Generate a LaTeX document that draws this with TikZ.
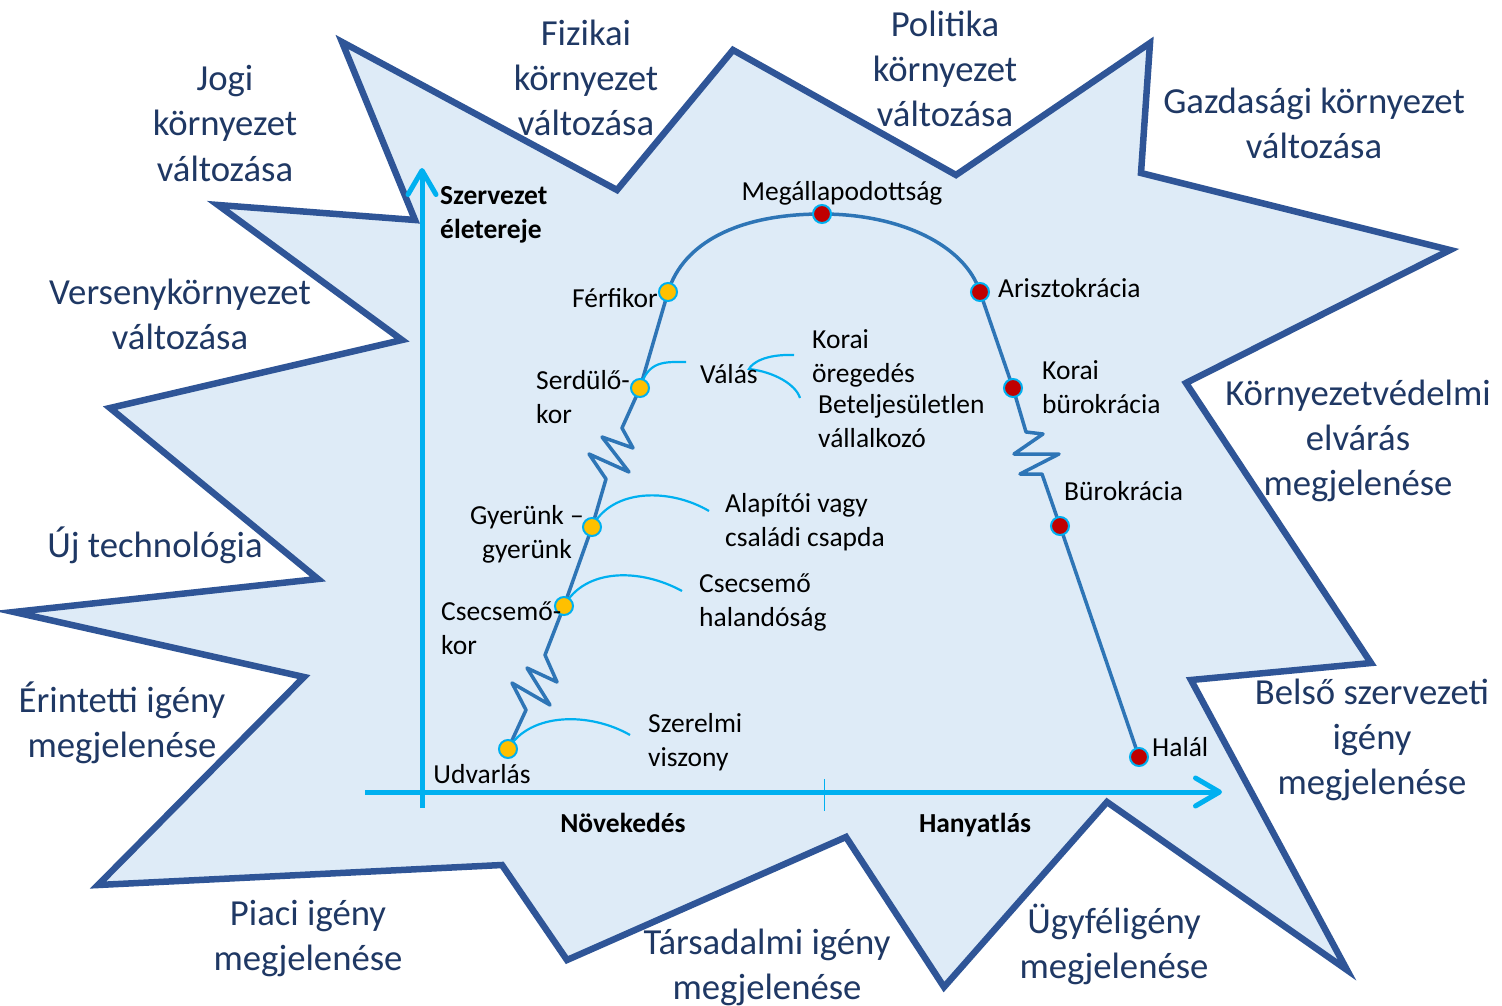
\documentclass[tikz,border=0pt]{standalone}
\usepackage{fontspec}
\setmainfont{Carlito}
\usetikzlibrary{arrows.meta}
\definecolor{starfill}{HTML}{DEEBF7}
\definecolor{stardraw}{HTML}{2F5597}
\definecolor{axiscol}{HTML}{00B0F0}
\definecolor{curvecol}{HTML}{2E75B6}
\definecolor{outertext}{HTML}{1F3864}
\definecolor{dotyellow}{HTML}{FFC000}
\definecolor{dotred}{HTML}{C00000}
\begin{document}
\begin{tikzpicture}[x=1pt,y=-1pt,
  outer/.style={font=\fontsize{36.7}{45}\selectfont, text=outertext, align=center, anchor=base, inner sep=0pt},
  inlab/.style={font=\fontsize{27.5}{33.5}\selectfont, text=black, align=left, anchor=base west, inner sep=0pt},
  boldlab/.style={inlab, font=\fontsize{27.5}{33.5}\selectfont\bfseries},
  ydot/.style={circle, fill=dotyellow, draw=axiscol, line width=2pt, minimum size=18pt, inner sep=0pt},
  rdot/.style={ydot, fill=dotred},
  lifeline/.style={draw=curvecol, line width=3.5pt, line join=round, line cap=round},
  note/.style={draw=axiscol, line width=2.2pt},
  axisline/.style={draw=axiscol, line width=5pt},
  barb/.style={-{Straight Barb[length=24pt,width=28pt,round]}},
]
\useasboundingbox (0,0) rectangle (1502,1006);
\fill[white] (0,0) rectangle (1502,1006);

% star
\draw[fill=starfill, draw=stardraw, line width=6.5pt]
  (342,42) -- (617,190) -- (733,50) -- (956,175) -- (1150,43) -- (1141,173)
  -- (1450,250) -- (1186,383) -- (1371,663) -- (1191,680) -- (1347,970)
  -- (1107,802) -- (944,987) -- (846,837) -- (567,960) -- (502,865)
  -- (98,885) -- (304,677) -- (14,612) -- (318,579) -- (110,408)
  -- (402,340) -- (218,205) -- (415,220) -- cycle;

% axes
\coordinate (vbot) at (422,808);
\coordinate (vtop) at (422,168);
\coordinate (hleft) at (365,792);
\coordinate (hright) at (1222,792);
\coordinate (tickA) at (824,779);
\coordinate (tickB) at (824,811);
\draw[axisline, barb] (vbot) -- (vtop);
\draw[axisline, barb] (hleft) -- (hright);
\draw[draw=axiscol, line width=1pt] (tickA) -- (tickB);

% life line points
\coordinate (p1) at (508,749);
\coordinate (p2) at (564,606);
\coordinate (p3) at (592,527);
\coordinate (p4) at (640,388);
\coordinate (p5) at (668,292);
\coordinate (p6) at (822,214);
\coordinate (p7) at (980,292);
\coordinate (p8) at (1013,388);
\coordinate (p9) at (1060,526);
\coordinate (p10) at (1139,757);

\draw[lifeline] (p1) -- (526,710) -- (512,683) -- (550,705) -- (527,668)
  -- (557,682) -- (545,655) -- (p2) -- (p3) -- (606,479) -- (589,454)
  -- (629,472) -- (602,437) -- (633,448) -- (622,428) -- (p4) -- (p5)
  .. controls (683,243) and (738,214) .. (p6)
  .. controls (900,214) and (965,245) .. (p7)
  -- (p8) -- (1026,432) -- (1043,434) -- (1014,454) -- (1059,454)
  -- (1020,474) -- (1042,474) -- (p9) -- (p10);

% annotation curves
\coordinate (n1) at (630,735);
\coordinate (n2) at (682,591);
\coordinate (n3) at (709,511);
\coordinate (n4) at (686,362);
\coordinate (va1) at (794,355);
\coordinate (vtip) at (749,369);
\coordinate (va2) at (800,398);
\draw[note] (p1) .. controls (530,712) and (590,712) .. (n1);
\draw[note] (p2) .. controls (585,568) and (640,568) .. (n2);
\draw[note] (p3) .. controls (612,488) and (670,488) .. (n3);
\draw[note] (p4) .. controls (648,360) and (665,362) .. (n4);
\draw[note] (va1) .. controls (765,354) and (752,363) .. (vtip)
  .. controls (775,372) and (796,385) .. (va2);

% dots
\node[ydot] (d1) at (p1) {};
\node[ydot] (d2) at (p2) {};
\node[ydot] (d3) at (p3) {};
\node[ydot] (d4) at (p4) {};
\node[ydot] (d5) at (p5) {};
\node[rdot] (d6) at (p6) {};
\node[rdot] (d7) at (p7) {};
\node[rdot] (d8) at (p8) {};
\node[rdot] (d9) at (p9) {};
\node[rdot] (d10) at (p10) {};

% axis labels (multi-line nodes: base = last line)
\node[boldlab] (ylab) at (440,238) {Szervezet\\életereje};
\node[boldlab, anchor=base] (grow) at (623,832) {Növekedés};
\node[boldlab, anchor=base] (decl) at (975,832) {Hanyatlás};

% stage labels
\node[inlab, anchor=base] (l6) at (842,200) {Megállapodottság};
\node[inlab, anchor=base east] (l5) at (658,307) {Férfikor};
\node[inlab] (l4) at (536,423) {Serdülő-\\kor};
\node[inlab, align=center, anchor=base] (l3) at (527,558) {Gyerünk –\\gyerünk};
\node[inlab] (l2) at (441,654) {Csecsemő-\\kor};
\node[inlab, anchor=base] (l1) at (482,783) {Udvarlás};
\node[inlab] (l7) at (998,297) {Arisztokrácia};
\node[inlab] (l8) at (1042,413) {Korai\\bürokrácia};
\node[inlab] (l9) at (1064,500) {Bürokrácia};
\node[inlab] (l10) at (1152,756) {Halál};

% trap labels
\node[inlab] (t1) at (648,766) {Szerelmi\\viszony};
\node[inlab] (t2) at (699,626) {Csecsemő\\halandóság};
\node[inlab] (t3) at (725,546) {Alapítói vagy\\családi csapda};
\node[inlab] (t4) at (700,383) {Válás};
\node[inlab] (t5) at (812,382) {Korai\\öregedés};
\node[inlab] (t6) at (818,447) {Beteljesületlen\\vállalkozó};

% outer labels
\node[outer] (o1) at (225,181) {Jogi\\környezet\\változása};
\node[outer] (o2) at (586,136) {Fizikai\\környezet\\változása};
\node[outer] (o3) at (945,127) {Politika\\környezet\\változása};
\node[outer] (o4) at (1314,159) {Gazdasági környezet\\változása};
\node[outer] (o5) at (180,349) {Versenykörnyezet\\változása};
\node[outer] (o6) at (1358,495) {Környezetvédelmi\\elvárás\\megjelenése};
\node[outer] (o7) at (155,557) {Új technológia};
\node[outer] (o8) at (122,757) {Érintetti igény\\megjelenése};
\node[outer] (o9) at (1372,794) {Belső szervezeti\\igény\\megjelenése};
\node[outer] (o10) at (308,970) {Piaci igény\\megjelenése};
\node[outer] (o11) at (767,999) {Társadalmi igény\\megjelenése};
\node[outer] (o12) at (1114,978) {Ügyféligény\\megjelenése};
\end{tikzpicture}
\end{document}
